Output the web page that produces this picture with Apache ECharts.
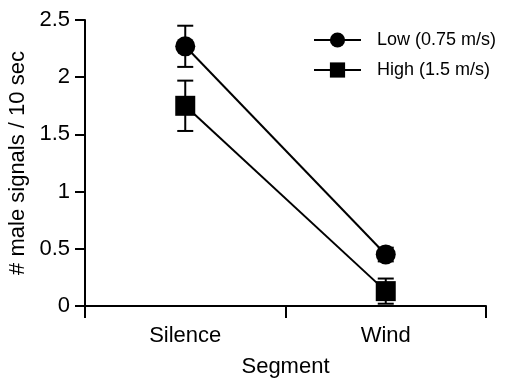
<!DOCTYPE html>
<html>
<head>
<meta charset="utf-8">
<script src="https://cdn.jsdelivr.net/npm/echarts@6/dist/echarts.min.js"></script>
<style>
  html, body { margin: 0; padding: 0; background: #fff; }
  #chart { width: 506px; height: 378px; }
</style>
</head>
<body>
<div id="chart"></div>
<script>
// 数据
var segments = ['Silence', 'Wind'];
var seriesNames = ['Low (0.75 m/s)', 'High (1.5 m/s)'];
var lowMean = [2.27, 0.45];
var lowErr = [0.18, 0.06];
var highMean = [1.75, 0.13];
var highErr = [0.22, 0.11];

var font = 'Liberation Sans, Arial, sans-serif';

// 误差线数据 [类目序号, 下限, 上限]
function errData(mean, err) {
    return mean.map(function (m, i) {
        return [i, m - err[i], m + err[i]];
    });
}

function renderErr(params, api) {
    var x = api.value(0);
    var top = api.coord([x, api.value(2)]);
    var bot = api.coord([x, api.value(1)]);
    var w = 8;
    var st = { stroke: '#000', lineWidth: 2 };
    return {
        type: 'group',
        children: [
            { type: 'line', shape: { x1: top[0], y1: top[1], x2: bot[0], y2: bot[1] }, style: st },
            { type: 'line', shape: { x1: top[0] - w, y1: top[1], x2: top[0] + w, y2: top[1] }, style: st },
            { type: 'line', shape: { x1: bot[0] - w, y1: bot[1], x2: bot[0] + w, y2: bot[1] }, style: st }
        ]
    };
}

var myChart = echarts.init(document.getElementById('chart'));
var option = {
    animation: false,
    backgroundColor: '#fff',
    textStyle: { fontFamily: font },
    grid: { left: 85, right: 20, top: 20, bottom: 72, containLabel: false, outerBoundsMode: 'none' },
    legend: {
        orient: 'vertical',
        left: 308,
        top: 26,
        itemWidth: 47,
        itemHeight: 19,
        itemGap: 12,
        data: seriesNames,
        textStyle: { fontSize: 18, color: '#000', fontFamily: font, padding: [0, 0, 0, 11] }
    },
    xAxis: {
        type: 'category',
        data: segments,
        boundaryGap: true,
        name: 'Segment',
        nameLocation: 'middle',
        nameGap: 50,
        nameTextStyle: { fontSize: 22, color: '#000', fontFamily: font },
        axisLine: { lineStyle: { color: '#000', width: 2 } },
        axisTick: { show: true, length: 12, lineStyle: { color: '#000', width: 2 } },
        axisLabel: { fontSize: 22, color: '#000', margin: 19, fontFamily: font },
        splitLine: { show: false }
    },
    yAxis: {
        type: 'value',
        min: 0,
        max: 2.5,
        interval: 0.5,
        name: '# male signals / 10 sec',
        nameLocation: 'middle',
        nameRotate: 90,
        nameGap: 44,
        nameTextStyle: { fontSize: 22, color: '#000', fontFamily: font },
        axisLine: { show: true, lineStyle: { color: '#000', width: 2 } },
        axisTick: { show: true, length: 10, lineStyle: { color: '#000', width: 2 } },
        axisLabel: { fontSize: 22, color: '#000', margin: 15, fontFamily: font },
        splitLine: { show: false }
    },
    series: [
        {
            name: 'lowErr',
            type: 'custom',
            renderItem: renderErr,
            data: errData(lowMean, lowErr),
            z: 1,
            silent: true
        },
        {
            name: 'highErr',
            type: 'custom',
            renderItem: renderErr,
            data: errData(highMean, highErr),
            z: 1,
            silent: true
        },
        {
            name: seriesNames[0],
            type: 'line',
            data: lowMean,
            symbol: 'circle',
            symbolSize: 20,
            itemStyle: { color: '#000' },
            lineStyle: { color: '#000', width: 2 },
            z: 3
        },
        {
            name: seriesNames[1],
            type: 'line',
            data: highMean,
            symbol: 'rect',
            symbolSize: 20,
            itemStyle: { color: '#000' },
            lineStyle: { color: '#000', width: 2 },
            z: 3
        }
    ]
};
option && myChart.setOption(option);
</script>
</body>
</html>
